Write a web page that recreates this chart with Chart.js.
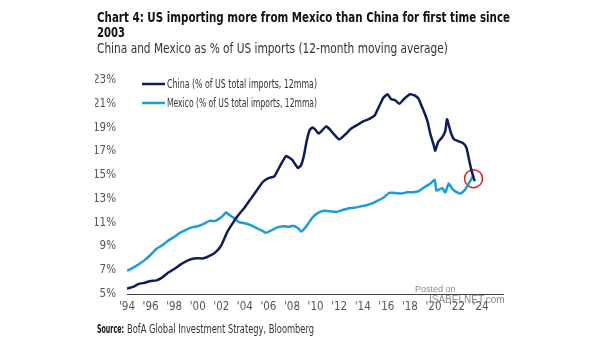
<!DOCTYPE html>
<html>
<head>
<meta charset="utf-8">
<script src="https://cdn.jsdelivr.net/npm/chart.js@4.4.0/dist/chart.umd.min.js"></script>
<style>
  html, body { margin: 0; padding: 0; background: #fff; }
  #importsChart { display: block; }
</style>
</head>
<body>
<canvas id="importsChart" width="605" height="341"></canvas>
<script>
// China share of US imports, % (12mma)
const chinaYears = [1994.0, 1994.5, 1995.0, 1995.5, 1996.0, 1996.5, 1997.0, 1997.5, 1998.0, 1998.5,
  1999.0, 1999.5, 2000.0, 2000.5, 2001.0, 2001.5, 2002.0, 2002.5, 2003.0, 2003.5,
  2004.0, 2004.5, 2005.0, 2005.5, 2006.0, 2006.5, 2007.0, 2007.5, 2008.0, 2008.5,
  2008.75, 2009.0, 2009.25, 2009.5, 2009.75, 2010.0, 2010.25, 2010.5, 2010.9, 2011.25,
  2011.5, 2012.0, 2012.5, 2013.0, 2013.5, 2014.0, 2014.5, 2015.0, 2015.25, 2015.5,
  2015.75, 2016.1, 2016.4, 2016.75, 2017.1, 2017.5, 2018.0, 2018.4, 2018.75, 2019.0,
  2019.25, 2019.5, 2019.75, 2020.0, 2020.15, 2020.4, 2020.75, 2021.0, 2021.15, 2021.3,
  2021.5, 2021.75, 2022.0, 2022.5, 2022.8, 2023.0, 2023.2, 2023.4, 2023.5];
const chinaShare = [5.45, 5.6, 5.85, 5.95, 6.1, 6.15, 6.4, 6.8, 7.1, 7.45,
  7.75, 7.95, 8.0, 8.0, 8.2, 8.5, 9.1, 10.2, 11.0, 11.7,
  12.3, 13.0, 13.7, 14.4, 14.75, 14.9, 15.8, 16.6, 16.3, 15.6,
  15.8, 16.6, 17.9, 18.8, 19.0, 18.8, 18.5, 18.7, 19.1, 18.8,
  18.5, 18.0, 18.4, 18.9, 19.2, 19.5, 19.7, 20.0, 20.5, 21.0,
  21.5, 21.8, 21.4, 21.3, 21.0, 21.4, 21.8, 21.7, 21.4, 20.8,
  20.2, 19.5, 18.4, 17.6, 17.05, 17.8, 18.2, 18.7, 19.7, 19.2,
  18.5, 18.0, 17.9, 17.7, 17.3, 16.4, 15.5, 14.8, 14.5];

// Mexico share of US imports, % (12mma)
const mexicoYears = [1994.0, 1994.5, 1995.0, 1995.5, 1996.0, 1996.5, 1997.0, 1997.5, 1998.0, 1998.5,
  1999.0, 1999.5, 2000.0, 2000.5, 2001.0, 2001.5, 2002.0, 2002.4, 2002.75, 2003.0,
  2003.5, 2004.0, 2004.5, 2005.0, 2005.5, 2005.8, 2006.25, 2006.75, 2007.25, 2007.75,
  2008.1, 2008.5, 2008.8, 2009.25, 2009.75, 2010.25, 2010.75, 2011.25, 2011.75, 2012.25,
  2012.75, 2013.25, 2013.75, 2014.25, 2014.75, 2015.25, 2015.75, 2016.25, 2016.75, 2017.25,
  2017.75, 2018.25, 2018.75, 2019.25, 2019.75, 2020.1, 2020.25, 2020.5, 2020.75, 2021.0,
  2021.3, 2021.6, 2022.0, 2022.3, 2022.7, 2023.0, 2023.2, 2023.4];
const mexicoShare = [6.95, 7.2, 7.5, 7.85, 8.3, 8.8, 9.1, 9.5, 9.8, 10.15,
  10.4, 10.6, 10.7, 10.9, 11.15, 11.15, 11.45, 11.85, 11.6, 11.45,
  11.05, 10.95, 10.8, 10.55, 10.3, 10.15, 10.35, 10.6, 10.7, 10.65,
  10.75, 10.55, 10.25, 10.75, 11.45, 11.85, 12.0, 11.95, 11.9, 12.05,
  12.2, 12.25, 12.35, 12.45, 12.6, 12.85, 13.1, 13.5, 13.5, 13.45,
  13.55, 13.55, 13.65, 14.0, 14.3, 14.6, 13.7, 13.8, 13.9, 13.55,
  14.3, 13.85, 13.55, 13.45, 13.8, 14.3, 14.65, 15.0];

// crossover point that gets circled
const crossYear = [2023.4];
const crossShare = [14.7];

const xTicks = [1994, 1996, 1998, 2000, 2002, 2004, 2006, 2008, 2010, 2012, 2014, 2016, 2018, 2020, 2022, 2024];
const yTicks = [5, 7, 9, 11, 13, 15, 17, 19, 21, 23];

const NARROW = "'Liberation Sans Narrow', 'DejaVu Sans Condensed', 'Liberation Sans', sans-serif";
const NAVY = '#0f1c5c';
const SKY = '#1a9ddb';

const toPoints = (xs, ys) => xs.map((x, i) => ({ x: x, y: ys[i] }));

// squeeze a line of text horizontally so it spans at most the given width
function fitText(ctx, text, x, y, width) {
  const w = ctx.measureText(text).width;
  const sx = w > width ? width / w : 1;
  ctx.save();
  ctx.translate(x, y);
  ctx.scale(sx, 1);
  ctx.fillText(text, 0, 0);
  ctx.restore();
}

// headline, legend, source line and watermark drawn straight onto the canvas
const textLayer = {
  id: 'textLayer',
  afterDraw(chart) {
    const ctx = chart.ctx;
    const area = chart.chartArea;
    ctx.save();
    ctx.textBaseline = 'alphabetic';
    ctx.textAlign = 'left';

    ctx.fillStyle = '#111';
    ctx.font = 'bold 14.5px ' + NARROW;
    fitText(ctx, 'Chart 4: US importing more from Mexico than China for first time since', 97, 22, 413);
    fitText(ctx, '2003', 97, 37, 28);

    ctx.fillStyle = '#333';
    ctx.font = '13.5px ' + NARROW;
    fitText(ctx, 'China and Mexico as % of US imports (12-month moving average)', 97, 52.5, 351);

    // legend inside the plot, top left
    ctx.font = '11.5px ' + NARROW;
    chart.data.datasets.slice(0, 2).forEach((ds, i) => {
      const y = area.top + 4 + i * 19;
      ctx.strokeStyle = ds.borderColor;
      ctx.lineWidth = 2.5;
      ctx.beginPath();
      ctx.moveTo(area.left + 15, y);
      ctx.lineTo(area.left + 38, y);
      ctx.stroke();
      ctx.fillStyle = '#333';
      fitText(ctx, ds.label, area.left + 40, y + 4, 150);
    });

    ctx.fillStyle = '#111';
    ctx.font = 'bold 11.5px ' + NARROW;
    fitText(ctx, 'Source:', 97, 333, 27);
    ctx.font = '11.5px ' + NARROW;
    ctx.fillStyle = '#333';
    fitText(ctx, 'BofA Global Investment Strategy, Bloomberg', 127, 333, 187);

    ctx.fillStyle = '#8a8a8a';
    ctx.font = '9px ' + 'Liberation Sans, sans-serif';
    ctx.fillText('Posted on', 415, 292);
    ctx.font = '10px ' + 'Liberation Sans, sans-serif';
    ctx.fillText('ISABELNET.com', 429, 303);
    ctx.restore();
  }
};

const chart = new Chart(document.getElementById('importsChart'), {
  type: 'line',
  data: {
    datasets: [
      {
        label: 'China (% of US total imports, 12mma)',
        data: toPoints(chinaYears, chinaShare),
        borderColor: NAVY,
        borderWidth: 2.5,
        pointRadius: 0,
        tension: 0.15
      },
      {
        label: 'Mexico (% of US total imports, 12mma)',
        data: toPoints(mexicoYears, mexicoShare),
        borderColor: SKY,
        borderWidth: 2.5,
        pointRadius: 0,
        tension: 0.15
      },
      {
        label: 'crossover',
        data: toPoints(crossYear, crossShare),
        showLine: false,
        pointRadius: 9,
        pointBorderWidth: 1.5,
        pointBorderColor: '#e01e1e',
        pointBackgroundColor: 'rgba(0,0,0,0)'
      }
    ]
  },
  options: {
    responsive: false,
    animation: false,
    layout: {
      padding: { top: 80, left: 95, right: 102, bottom: 27 }
    },
    plugins: {
      legend: { display: false },
      tooltip: { enabled: false }
    },
    scales: {
      x: {
        type: 'linear',
        min: 1994,
        max: 2025.9,
        grid: { display: false, drawTicks: false },
        border: { display: true, color: '#444', width: 1 },
        afterBuildTicks: (scale) => { scale.ticks = xTicks.map(v => ({ value: v })); },
        afterFit: (scale) => { scale.height = 20; },
        ticks: {
          padding: 6,
          color: '#555',
          font: { family: NARROW, size: 11.5 },
          maxRotation: 0,
          autoSkip: false,
          callback: (v) => "'" + String(v).slice(2)
        }
      },
      y: {
        min: 5,
        max: 23,
        grid: { display: false, drawTicks: false },
        border: { display: false },
        afterBuildTicks: (scale) => { scale.ticks = yTicks.map(v => ({ value: v })); },
        afterFit: (scale) => { scale.width = 32; },
        ticks: {
          padding: 11,
          color: '#555',
          font: { family: NARROW, size: 11.5 },
          callback: (v) => v + '%'
        }
      }
    }
  },
  plugins: [textLayer]
});
</script>
</body>
</html>
